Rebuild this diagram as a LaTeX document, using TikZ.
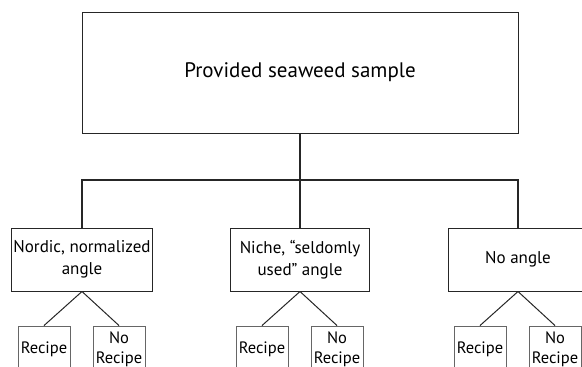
\documentclass[tikz,border=0pt]{standalone}
\usepackage{fontspec}
\setmainfont{PT Sans}
\usetikzlibrary{positioning}

\begin{document}
\begin{tikzpicture}[x=1pt, y=-1pt,
    box/.style={draw=black!85, line width=1pt, align=center, inner sep=2pt},
    anglebox/.style={box, minimum width=139pt, minimum height=63pt, font=\fontsize{17}{22}\selectfont},
    leafbox/.style={draw=black!60, line width=0.9pt, align=center, minimum width=52pt, minimum height=46pt, inner sep=1pt, font=\fontsize{16.5}{20}\selectfont},
    link/.style={draw=black!85, line width=1.6pt},
    branch/.style={draw=black!85, line width=1pt}]
    \useasboundingbox (0,0) rectangle (582,367);
    \clip (0,0) rectangle (582,367);

    % Sample
    \node[box, minimum width=436pt, minimum height=121pt, font=\fontsize{21}{26}\selectfont] (sample) at (300,72.5) {Provided seaweed sample};

    % Angles
    \node[anglebox] (nordic) at (82,259.5) {Nordic, normalized\\angle};
    \node[anglebox] (niche) at (300,259.5) {Niche, “seldomly\\used” angle};
    \node[anglebox] (noangle) at (518,259.5) {No angle};

    \coordinate (bus) at (300,180);
    \draw[link] (sample.south) -- (niche.north);
    \draw[link] (nordic.north) |- (bus) -| (noangle.north);

    % Recipes
    \foreach \parent/\x in {nordic/82, niche/300, noangle/518} {
        \node[leafbox] (\parent-r) at (\x-38,349) {Recipe};
        \node[leafbox] (\parent-nr) at (\x+37,349) {No\\Recipe};
        \draw[branch] (\parent.south) -- (\parent-r.north);
        \draw[branch] (\parent.south) -- (\parent-nr.north);
    }
\end{tikzpicture}
\end{document}
